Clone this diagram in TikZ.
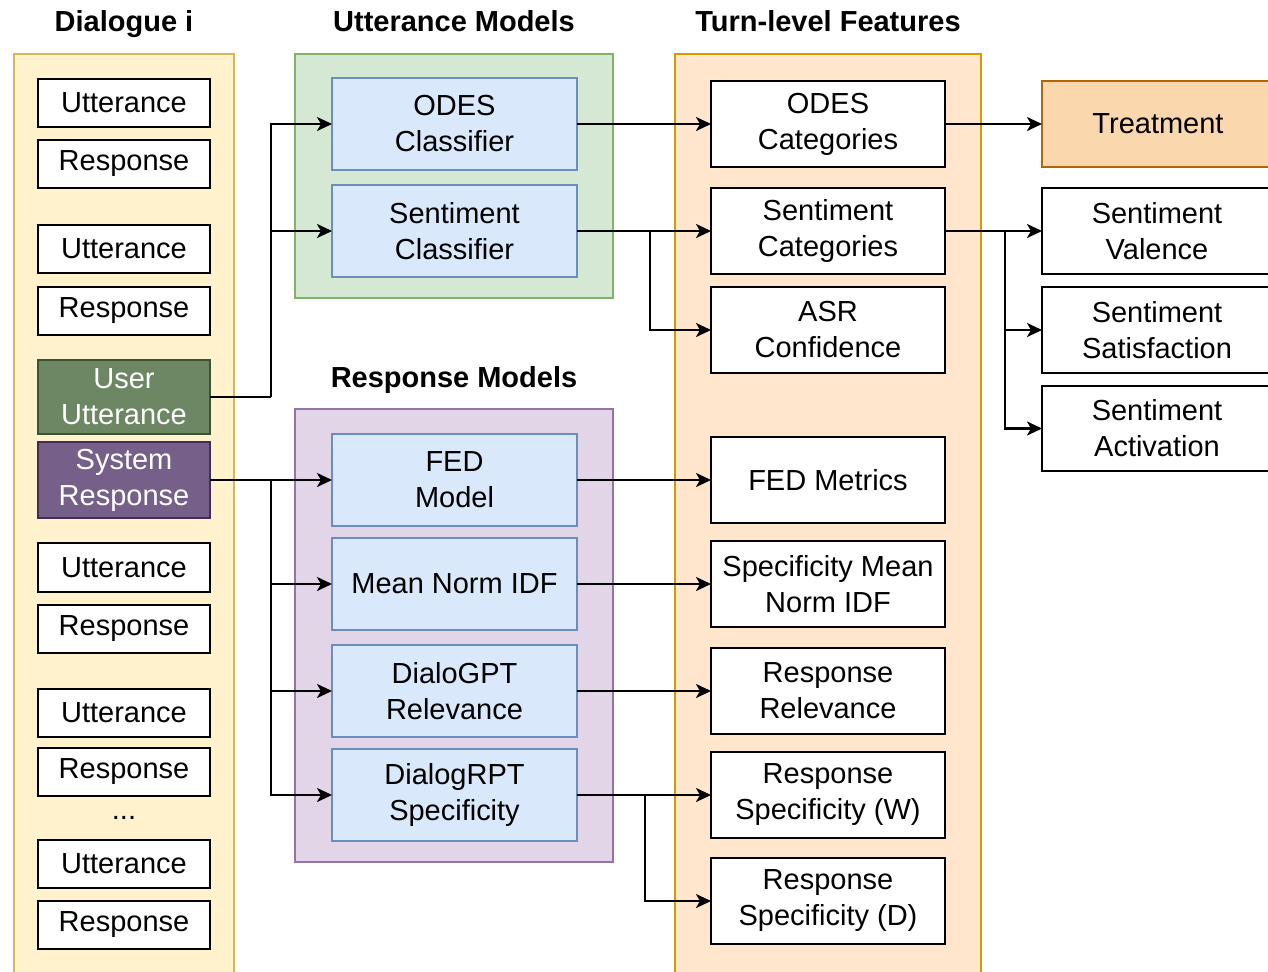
\documentclass[tikz,border=0pt]{standalone}
\usepackage{fontspec}
\setmainfont{Liberation Sans}
\usetikzlibrary{arrows.meta}

\definecolor{dlgfill}{HTML}{FFF2CC}\definecolor{dlgdraw}{HTML}{D6B656}
\definecolor{grnfill}{HTML}{D5E8D4}\definecolor{grndraw}{HTML}{82B366}
\definecolor{blufill}{HTML}{DAE8FC}\definecolor{bludraw}{HTML}{6C8EBF}
\definecolor{purfill}{HTML}{E1D5E7}\definecolor{purdraw}{HTML}{9673A6}
\definecolor{orafill}{HTML}{FFE6CC}\definecolor{oradraw}{HTML}{D79B00}
\definecolor{trtfill}{HTML}{FAD7AC}\definecolor{trtdraw}{HTML}{B46504}
\definecolor{usrfill}{HTML}{6D8764}\definecolor{usrdraw}{HTML}{3A5431}
\definecolor{sysfill}{HTML}{76608A}\definecolor{sysdraw}{HTML}{432D57}

% box from its corner pixels: name, x1, y1, x2, y2, style, text
\newcommand\pbox[7]{%
  \node[#6, minimum width={(#4-#2)*0.02cm}, minimum height={(#5-#3)*0.02cm}]
    (#1) at ({(#2+#4)/2},{(#3+#5)/2}) {#7};}

\tikzset{
  basebox/.style={rectangle, inner sep=0pt, outer sep=0pt, align=center,
    font=\fontsize{16.5}{20.5}\selectfont},
  plainbox/.style={basebox, draw=black, fill=white, line width=1.3pt},
  modelbox/.style={basebox, draw=bludraw, fill=blufill, line width=1.3pt},
  group/.style={rectangle, inner sep=0pt, outer sep=0pt, line width=0.7pt},
  heading/.style={anchor=base, font=\fontsize{16.5}{19}\selectfont\bfseries},
  conn/.style={line width=1.4pt, -{Stealth[length=0.3cm,width=0.28cm,inset=0.08cm]}},
  wire/.style={line width=1.4pt},
}

\begin{document}
\begin{tikzpicture}[x=0.02cm, y=-0.02cm]
\clip (0,0) rectangle (1268,971);
\fill[white] (0,0) rectangle (1268,971);

% group panels
\pbox{dlg}{14}{54}{234}{990}{group, draw=dlgdraw, fill=dlgfill}{}
\pbox{um}{295}{54}{613}{298}{group, draw=grndraw, fill=grnfill}{}
\pbox{rm}{295}{409}{613}{862}{group, draw=purdraw, fill=purfill}{}
\pbox{tf}{675}{54}{981}{990}{group, draw=oradraw, fill=orafill}{}

% headings
\node[heading] (hdlg) at (124,31) {Dialogue i};
\node[heading] (hum) at (454,31) {Utterance Models};
\node[heading] (htf) at (828,31) {Turn-level Features};
\node[heading] (hrm) at (454,387) {Response Models};

% dialogue turns
\pbox{u1}{38}{79}{210}{127}{plainbox, line width=0.8pt}{Utterance}
\pbox{r1}{38}{140}{210}{188}{plainbox}{Response}
\pbox{u2}{38}{225}{210}{273}{plainbox}{Utterance}
\pbox{r2}{38}{287}{210}{335}{plainbox}{Response}
\pbox{uu}{38}{360}{210}{434}{basebox, draw=usrdraw, fill=usrfill, line width=1.3pt, text=white}{User\\Utterance}
\pbox{sr}{38}{442}{210}{518}{basebox, draw=sysdraw, fill=sysfill, line width=1.3pt, text=white}{System\\Response}
\pbox{u3}{38}{543}{210}{592}{plainbox}{Utterance}
\pbox{r3}{38}{605}{210}{653}{plainbox}{Response}
\pbox{u4}{38}{689}{210}{737}{plainbox}{Utterance}
\pbox{r4}{38}{748}{210}{796}{plainbox}{Response}
\node[basebox] (dots) at (124,818) {...};
\pbox{u5}{38}{840}{210}{888}{plainbox}{Utterance}
\pbox{r5}{38}{901}{210}{949}{plainbox}{Response}

% utterance models
\pbox{odesc}{332}{78}{577}{170}{modelbox}{ODES\\Classifier}
\pbox{sentc}{332}{185}{577}{277}{modelbox}{Sentiment\\Classifier}

% response models
\pbox{fedm}{332}{434}{577}{526}{modelbox}{FED\\Model}
\pbox{mnidf}{332}{538}{577}{630}{modelbox}{Mean Norm IDF}
\pbox{dgpt}{332}{645}{577}{737}{modelbox}{DialoGPT\\Relevance}
\pbox{drpt}{332}{749}{577}{841}{modelbox}{DialogRPT\\Specificity}

% turn-level features
\pbox{odescat}{711}{81}{945}{167}{plainbox}{ODES\\Categories}
\pbox{sentcat}{711}{188}{945}{274}{plainbox}{Sentiment\\Categories}
\pbox{asr}{711}{287}{945}{373}{plainbox}{ASR\\Confidence}
\pbox{fedmet}{711}{437}{945}{523}{plainbox}{FED Metrics}
\pbox{specidf}{711}{541}{945}{627}{plainbox}{Specificity Mean\\Norm IDF}
\pbox{resrel}{711}{648}{945}{734}{plainbox}{Response\\Relevance}
\pbox{specw}{711}{752}{945}{838}{plainbox}{Response\\Specificity (W)}
\pbox{specd}{711}{858}{945}{944}{plainbox}{Response\\Specificity (D)}

% outcomes
\pbox{treat}{1042}{81}{1274}{167}{basebox, draw=trtdraw, fill=trtfill, line width=1.3pt}{Treatment}
\pbox{valence}{1042}{188}{1272}{274}{plainbox}{Sentiment\\Valence}
\pbox{satis}{1042}{287}{1272}{373}{plainbox}{Sentiment\\Satisfaction}
\pbox{activ}{1042}{386}{1272}{471}{plainbox}{Sentiment\\Activation}

% junction points of the branching connectors
\coordinate (juu) at (271,397);
\coordinate (jsr) at (271,480);
\coordinate (jsent) at (650,231);
\coordinate (jrpt) at (645,795);
\coordinate (jcat) at (1005,231);

% user utterance to utterance models
\draw[wire] (uu.east) -- (juu);
\draw[conn] (juu) |- (odesc.west);
\draw[conn] (juu) |- (sentc.west);

% system response to response models
\draw[conn] (sr.east) -- (fedm.west);
\draw[conn] (jsr) |- (mnidf.west);
\draw[conn] (jsr) |- (dgpt.west);
\draw[conn] (jsr) |- (drpt.west);

% models to features
\draw[conn] (odesc.east) -- (odescat.west);
\draw[conn] (sentc.east) -- (sentcat.west);
\draw[conn] (jsent) |- (asr.west);
\draw[conn] (fedm.east) -- (fedmet.west);
\draw[conn] (mnidf.east) -- (specidf.west);
\draw[conn] (dgpt.east) -- (resrel.west);
\draw[conn] (drpt.east) -- (specw.west);
\draw[conn] (jrpt) |- (specd.west);

% features to outcomes
\draw[conn] (odescat.east) -- (treat.west);
\draw[conn] (sentcat.east) -- (valence.west);
\draw[conn] (jcat) |- (satis.west);
\draw[conn] (jcat) |- (activ.west);
\end{tikzpicture}
\end{document}
